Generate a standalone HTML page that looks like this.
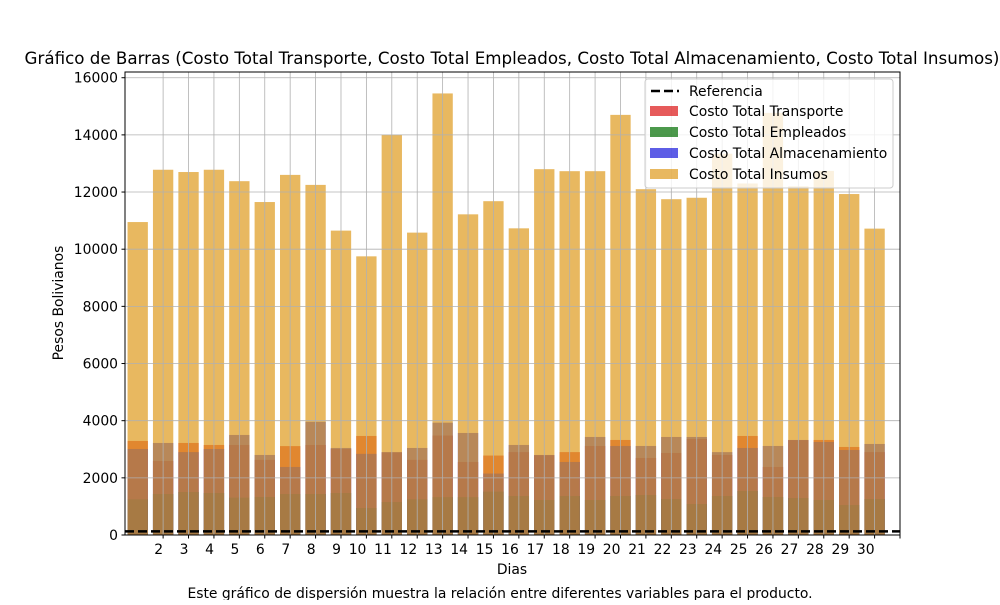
<!DOCTYPE html>
<html><head><meta charset="utf-8"><style>
body{margin:0;background:#fff}
svg text{font-family:"DejaVu Sans","Liberation Sans",sans-serif;fill:#000}
</style></head><body>
<svg id="chart" width="1000" height="600" xmlns="http://www.w3.org/2000/svg">
<rect width="1000" height="600" fill="#fff"/>
<g id="bars"></g>
<g id="grid"></g>
<g id="ref"></g>
<g id="axes"></g>
<text x="512" y="64" text-anchor="middle" font-size="16.7">Gráfico de Barras (Costo Total Transporte, Costo Total Empleados, Costo Total Almacenamiento, Costo Total Insumos)</text>
<text x="512" y="574" text-anchor="middle" font-size="13.9">Dias</text>
<text transform="translate(63,303) rotate(-90)" text-anchor="middle" font-size="13.9">Pesos Bolivianos</text>
<text x="500" y="598" text-anchor="middle" font-size="13.9">Este gráfico de dispersión muestra la relación entre diferentes variables para el producto.</text>
<g>
<rect x="645" y="79" width="248" height="109" rx="3" fill="#fff" fill-opacity="0.8" stroke="#ccc"/>
<line x1="651" y1="91" x2="679" y2="91" stroke="#000" stroke-width="2.5" stroke-dasharray="9,4"/>
<text x="689" y="96" font-size="13.9">Referencia</text>
<rect x="650" y="106" width="28" height="10" fill="rgb(220,20,20)" fill-opacity="0.7"/>
<text x="689" y="116" font-size="13.9">Costo Total Transporte</text>
<rect x="650" y="127" width="28" height="10" fill="rgb(0,110,0)" fill-opacity="0.7"/>
<text x="689" y="137" font-size="13.9">Costo Total Empleados</text>
<rect x="650" y="148" width="28" height="10" fill="rgb(26,26,220)" fill-opacity="0.7"/>
<text x="689" y="158" font-size="13.9">Costo Total Almacenamiento</text>
<rect x="650" y="169" width="28" height="10" fill="rgb(222,154,28)" fill-opacity="0.7"/>
<text x="689" y="179" font-size="13.9">Costo Total Insumos</text>
</g>
</svg>
<script>
const days = [1,2,3,4,5,6,7,8,9,10,11,12,13,14,15,16,17,18,19,20,21,22,23,24,25,26,27,28,29,30];
const transporte = [3290,2590,3220,3150,3150,2630,3110,3150,3010,3465,2890,2630,3480,2555,2780,2900,2790,2900,3115,3325,2695,2870,3360,2800,3465,2380,3320,3325,3080,2900];
const empleados = [1250,1435,1505,1470,1310,1330,1435,1435,1470,945,1155,1250,1325,1325,1520,1365,1225,1365,1225,1365,1400,1260,1085,1365,1540,1330,1295,1225,1050,1260];
const almacenamiento = [3010,3220,2900,3010,3500,2800,2380,3960,3045,2840,2900,3045,3930,3570,2150,3150,2800,2555,3430,3115,3115,3430,3430,2900,3045,3115,3325,3255,2975,3185];
const insumos = [10950,12780,12700,12780,12380,11650,12600,12250,10650,9750,14000,10580,15450,11220,11680,10730,12800,12730,12730,14700,12100,11750,11800,13340,12300,14770,12200,12740,11930,10720];
const referencia = [125];
const yTicks = [0,2000,4000,6000,8000,10000,12000,14000,16000];
const xTicks = [2,3,4,5,6,7,8,9,10,11,12,13,14,15,16,17,18,19,20,21,22,23,24,25,26,27,28,29,30,31];
const xTickLabels = ["2","3","4","5","6","7","8","9","10","11","12","13","14","15","16","17","18","19","20","21","22","23","24","25","26","27","28","29","30",""];

const L=125,R=900,T=72,B=535;
const xMin=0.5,xMax=31.0,yMin=0,yMax=16200;
const xs=d=>L+(d-xMin)/(xMax-xMin)*(R-L);
const ys=v=>B-(v-yMin)/(yMax-yMin)*(B-T);
const NS='http://www.w3.org/2000/svg';
function mk(tag,attrs,parent){const e=document.createElementNS(NS,tag);for(const k in attrs)e.setAttribute(k,attrs[k]);parent.appendChild(e);return e;}
const bw=0.8*(R-L)/(xMax-xMin);
const series=[[transporte,'rgb(220,20,20)','transporte'],[empleados,'rgb(0,110,0)','empleados'],[almacenamiento,'rgb(26,26,220)','almacenamiento'],[insumos,'rgb(222,154,28)','insumos']];
const gb=document.getElementById('bars');
series.forEach(([vals,col,nm])=>{
  vals.forEach((v,i)=>{
    const r=mk('rect',{x:xs(days[i])-bw/2,y:ys(v),width:bw,height:ys(0)-ys(v),fill:col,'fill-opacity':0.7},gb);
    
    
  });
});
const gg=document.getElementById('grid');
yTicks.forEach(t=>{mk('line',{x1:L,x2:R,y1:ys(t),y2:ys(t),stroke:'#b0b0b0','stroke-width':0.8},gg);});
xTicks.forEach(t=>{mk('line',{x1:xs(t),x2:xs(t),y1:T,y2:B,stroke:'#b0b0b0','stroke-width':0.8},gg);});
const gr=document.getElementById('ref');
referencia.forEach(v=>{const l=mk('line',{x1:L,x2:R,y1:ys(v),y2:ys(v),stroke:'#000','stroke-width':2.5,'stroke-dasharray':'9,4'},gr);

});
const ga=document.getElementById('axes');
mk('rect',{x:L,y:T,width:R-L,height:B-T,fill:'none',stroke:'#000','stroke-width':1},ga);
yTicks.forEach(t=>{mk('line',{x1:L-3.5,x2:L,y1:ys(t),y2:ys(t),stroke:'#000'},ga);
  const tx=mk('text',{x:L-7,y:ys(t)+5,'text-anchor':'end','font-size':13.9},ga);tx.textContent=t;
  
  });
xTicks.forEach((t,i)=>{mk('line',{x1:xs(t),x2:xs(t),y1:B,y2:B+3.5,stroke:'#000'},ga);
  const tx=mk('text',{x:xs(t),y:B+19,'text-anchor':'end','font-size':13.9},ga);tx.textContent=xTickLabels[i];
  
  });
</script>
</body></html>
